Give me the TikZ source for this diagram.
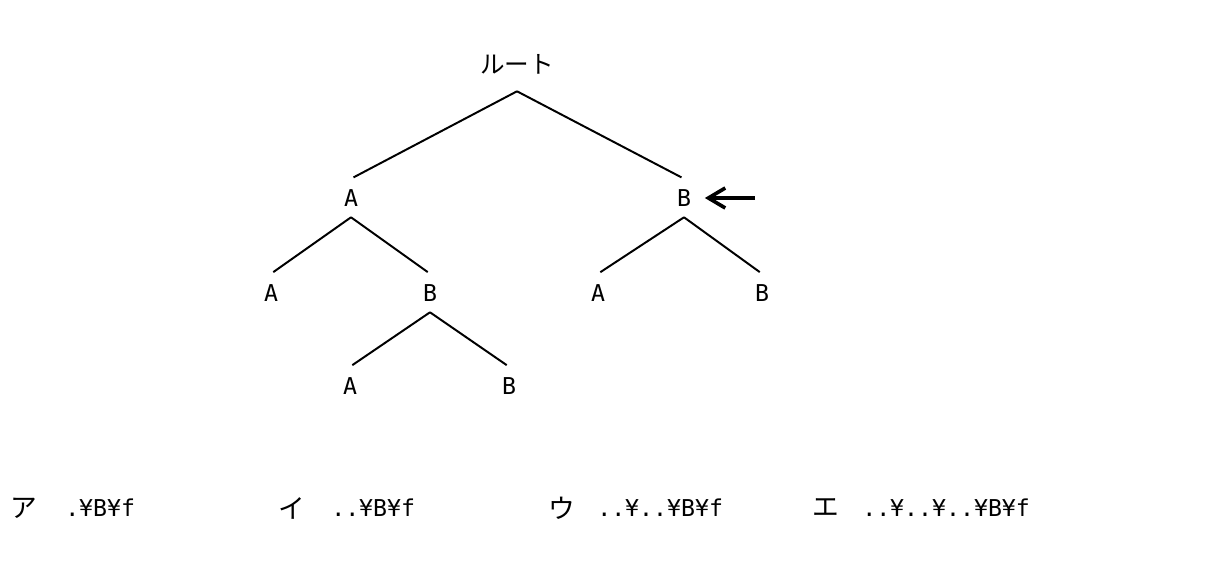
\documentclass[tikz,border=0pt]{standalone}
\usepackage{fontspec}
\usetikzlibrary{arrows.meta}
\newfontfamily\jpfont{Noto Sans CJK JP}
\newfontfamily\ascfont{DejaVu Sans Mono}

\begin{document}
\begin{tikzpicture}[x=0.025cm, y=-0.025cm,
    leaf/.style={font=\ascfont\fontsize{16.5}{18}\selectfont, inner sep=0pt,
                 text height=12pt, text depth=0pt, minimum height=0.95cm},
    branch/.style={line width=1.4pt, shorten >=0.07cm},
    pointer/.style={-{Straight Barb[length=0.42cm, width=0.5cm]}, line width=2.6pt, shorten >=0.34cm},
    choice/.style={font=\jpfont\fontsize{19}{21}\selectfont, inner sep=0pt},
    dirpath/.style={font=\ascfont\fontsize{16.5}{18}\selectfont, inner sep=0pt, anchor=base west}]
    \useasboundingbox (0,0) rectangle (1217,567);
    % tree
    \node[leaf, font=\jpfont\fontsize{17.5}{20}\selectfont, minimum height=1.3cm] (root) at (517,65) {ルート};
    \node[leaf] (a) at (351,198) {A};
    \node[leaf] (b) at (684,198) {B};
    \node[leaf] (aa) at (271,293) {A};
    \node[leaf] (ab) at (430,293) {B};
    \node[leaf] (ba) at (598,293) {A};
    \node[leaf] (bb) at (762,293) {B};
    \node[leaf] (aba) at (350,386) {A};
    \node[leaf] (abb) at (509,386) {B};
    \draw[branch] (root.south) -- (a.north);
    \draw[branch] (root.south) -- (b.north);
    \draw[branch] (a.south) -- (aa.north);
    \draw[branch] (a.south) -- (ab.north);
    \draw[branch] (b.south) -- (ba.north);
    \draw[branch] (b.south) -- (bb.north);
    \draw[branch] (ab.south) -- (aba.north);
    \draw[branch] (ab.south) -- (abb.north);
    \coordinate (ptr) at (755,198);
    \draw[pointer] (ptr) -- (b);
    % answers
    \node[choice] (opta) at (24,508) {ア};
    \node[choice] (optb) at (292,508) {イ};
    \node[choice] (optc) at (562,508) {ウ};
    \node[choice] (optd) at (826,508) {エ};
    \node[dirpath] (patha) at (65,516.5) {.¥B¥f};
    \node[dirpath] (pathb) at (331,516.5) {..¥B¥f};
    \node[dirpath] (pathc) at (597,516.5) {..¥..¥B¥f};
    \node[dirpath] (pathd) at (862,516.5) {..¥..¥..¥B¥f};
\end{tikzpicture}
\end{document}
